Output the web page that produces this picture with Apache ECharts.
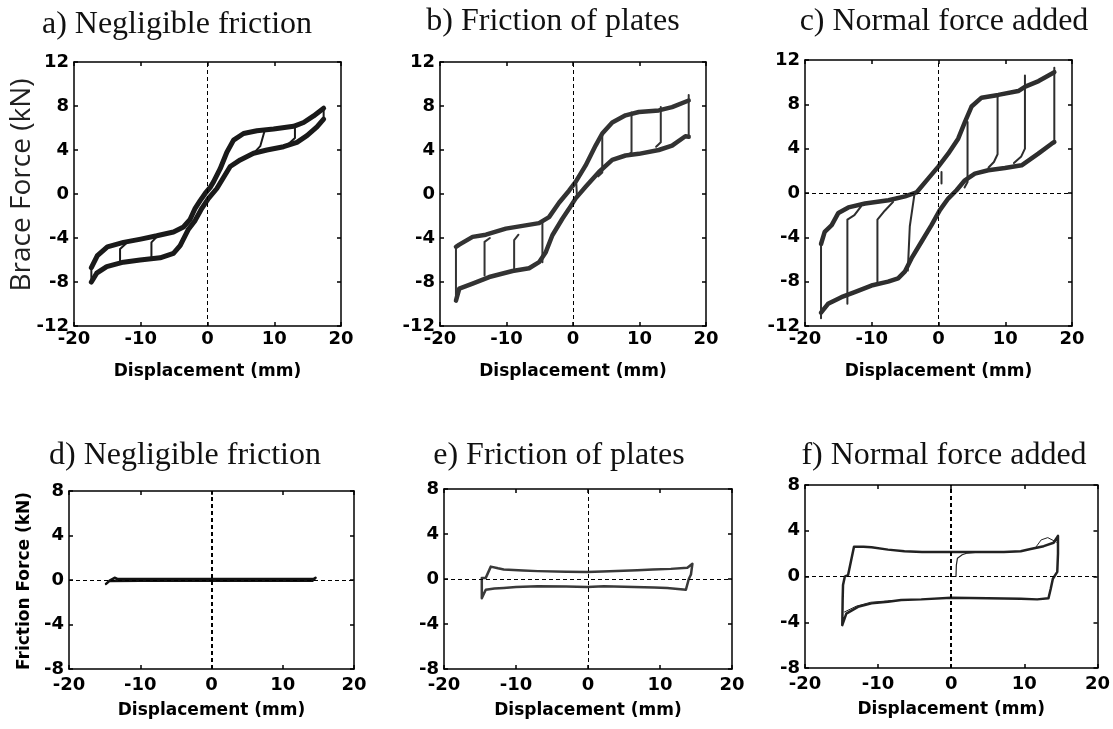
<!DOCTYPE html>
<html><head><meta charset="utf-8">
<script src="https://cdn.jsdelivr.net/npm/echarts/dist/echarts.min.js"></script>
<style>html,body{margin:0;padding:0;background:#fff}#c{width:1113px;height:729px}</style>
</head><body><div id="c"></div>
<script>
// ---------- titles / labels ----------
const panelTitles = ['a) Negligible friction','b) Friction of plates','c) Normal force added',
                     'd) Negligible friction','e) Friction of plates','f) Normal force added'];
const xName = 'Displacement (mm)';
const yNameTop = 'Brace Force (kN)';
const yNameBottom = 'Friction Force (kN)';
const xTicks = [-20, 20, 10];          // min, max, interval
const yTicksTop = [-12, 12, 4];
const yTicksBottom = [-8, 8, 4];

// ---------- panel a ----------
const aUpper = [[-17.4,-6.7],[-16.5,-5.6],[-15,-4.8],[-12.6,-4.4],[-10,-4.1],[-7.6,-3.8],[-5.1,-3.45],[-3.6,-3.0],[-2.6,-2.3],[-1.85,-1.3],[-1.1,-0.6],[-0.35,0.05],[0.4,0.6],[0.9,1.1],[1.9,2.3],[2.9,3.8],[3.9,4.9],[5.4,5.5],[7.4,5.75],[9.9,5.9],[12.9,6.15],[14.4,6.5],[15.9,7.1],[17.4,7.8]];
const aLower = [[17.4,6.8],[16.4,6.1],[14.9,5.3],[13.4,4.7],[11.4,4.3],[8.9,4.0],[6.9,3.7],[4.9,3.1],[3.4,2.5],[2.4,1.5],[1.4,0.5],[0.15,-0.4],[-0.85,-1.3],[-1.85,-2.4],[-2.85,-3.2],[-4.1,-4.7],[-5.1,-5.4],[-7.1,-5.8],[-10.1,-6.0],[-12.6,-6.2],[-15.1,-6.6],[-16.6,-7.2],[-17.4,-8.0]];
const aDrops = [
  [[17.4,7.8],[17.4,6.8]],
  [[13.1,6.2],[13.1,5.1],[12.2,4.6]],
  [[8.6,5.85],[7.9,4.35],[7.2,3.9]],
  [[-17.4,-8.0],[-17.4,-6.7]],
  [[-13.1,-6.1],[-13.1,-5.0],[-12.2,-4.5]],
  [[-8.4,-5.8],[-8.4,-4.4],[-7.6,-3.9]]
];

// ---------- panel b ----------
const bUpper = [[-17.6,-4.8],[-17.1,-4.6],[-15.1,-3.9],[-13.1,-3.7],[-10.1,-3.15],[-7.6,-2.9],[-5.1,-2.65],[-3.6,-2.1],[-2.1,-0.8],[-0.6,0.3],[0.4,1.1],[1.9,2.6],[3.4,4.4],[4.4,5.5],[5.9,6.5],[7.9,7.15],[9.9,7.45],[12.9,7.6],[14.9,7.9],[17.4,8.5]];
const bLower = [[17.4,5.2],[16.9,5.25],[14.9,4.4],[12.9,4.0],[9.9,3.65],[7.9,3.5],[5.9,3.1],[3.9,2.0],[1.9,0.65],[0.4,-0.4],[-0.6,-1.35],[-1.6,-2.25],[-3.1,-3.75],[-4.1,-5.3],[-5.1,-6.2],[-6.6,-6.75],[-9.1,-7.0],[-12.6,-7.55],[-15.1,-8.15],[-17.1,-8.6],[-17.6,-9.7]];
const bDrops = [
  [[17.4,9.0],[17.4,5.2]],
  [[13.2,7.9],[13.2,4.7],[12.5,4.3]],
  [[8.8,7.4],[8.8,3.8],[8.2,3.5]],
  [[4.4,5.5],[4.4,1.95],[3.8,1.6]],
  [[-17.6,-9.7],[-17.6,-4.8]],
  [[-13.3,-7.4],[-13.3,-4.35],[-12.5,-4.0]],
  [[-8.85,-6.9],[-8.85,-4.2],[-8.2,-3.7]],
  [[-4.6,-6.2],[-4.6,-2.5],[-4.0,-2.2]],
  [[0.5,0.9],[0.6,-0.3]]
];

// ---------- panel c ----------
const cUpper = [[-17.6,-4.6],[-17.05,-3.5],[-16,-2.9],[-15,-1.8],[-13.5,-1.3],[-11,-0.95],[-7.5,-0.65],[-5,-0.3],[-3.3,0.05],[-1.55,1.3],[0,2.4],[1.45,3.55],[2.95,4.9],[3.95,6.4],[4.95,7.8],[6.45,8.6],[8.95,8.85],[11.95,9.2],[13,9.6],[15,10.1],[17.35,10.9]];
const cLower = [[17.35,4.6],[16.95,4.45],[14.95,3.55],[12.45,2.5],[9.95,2.25],[7.45,2.05],[5.45,1.75],[3.95,1.15],[2.7,0.25],[1.45,-0.5],[0.2,-1.55],[-1.05,-2.9],[-2.55,-4.4],[-4.05,-5.9],[-5.05,-7.1],[-6.05,-7.7],[-7.55,-8.0],[-10.05,-8.35],[-12.55,-8.95],[-14.55,-9.4],[-16.55,-10.0],[-17.6,-10.8]];
const cDrops = [
  [[17.35,11.3],[17.35,4.6]],
  [[12.95,10.6],[12.95,4.0],[12.4,3.3],[11.3,2.7]],
  [[8.85,8.8],[8.85,3.5],[8.3,2.8],[7.5,2.3]],
  [[4.35,6.4],[4.35,1.0],[3.9,0.5]],
  [[-17.6,-11.3],[-17.6,-4.6]],
  [[-13.65,-10.0],[-13.65,-2.4],[-12.6,-2.0],[-11.6,-1.2]],
  [[-9.15,-8.0],[-9.15,-2.4],[-8.05,-1.6],[-6.8,-0.8]],
  [[-4.6,-7.0],[-4.3,-3.0],[-3.6,-0.1]],
  [[0.45,1.9],[0.45,0.85]]
];

// ---------- panel d ----------
const dLoop = [[-14.8,-0.35],[-14.3,-0.05],[-13.6,0.2],[-13.2,0.1],[-10,0.08],[0,0.08],[10,0.08],[14.3,0.08],[14.6,0.2],[14.6,0.05],[14.2,-0.06],[10,-0.06],[0,-0.06],[-10,-0.06],[-14.3,-0.08],[-14.8,-0.35]];

// ---------- panel e ----------
const eLoop = [[-14.75,-1.7],[-14.75,0.1],[-14.2,0.1],[-13.5,1.1],[-12.5,0.95],[-11.7,0.85],[-9,0.75],[-7,0.7],[-3,0.65],[-0.1,0.62],[3,0.68],[6.85,0.77],[9,0.85],[11.5,0.9],[13.8,1.0],[14.5,1.35],[14.3,0.4],[14.0,0],[13.6,-0.95],[11,-0.8],[9.2,-0.75],[5,-0.68],[2.2,-0.65],[-0.1,-0.72],[-3,-0.66],[-7,-0.65],[-10,-0.72],[-11.7,-0.8],[-13,-0.85],[-14.2,-0.95],[-14.75,-1.7]];

// ---------- panel f ----------
const fLoop = [[-14.9,-4.25],[-14.85,-2.0],[-14.8,-0.75],[-14.55,0],[-14.1,0.15],[-13.3,2.6],[-12,2.6],[-10.9,2.55],[-8.65,2.35],[-6.4,2.2],[-4,2.15],[-1.85,2.15],[0,2.15],[3.6,2.15],[7.2,2.15],[9.5,2.2],[10.85,2.4],[12.65,2.65],[14.0,2.95],[14.6,3.55],[14.6,2.0],[14.5,0.4],[13.9,-0.2],[13.6,-1.1],[13.3,-1.9],[11.75,-2.0],[9.5,-1.95],[4.95,-1.9],[0,-1.85],[-4.1,-2.0],[-6.85,-2.05],[-8.65,-2.2],[-10.9,-2.35],[-12.75,-2.65],[-14.35,-3.25],[-14.9,-4.25]];
const fInit = [[0.65,0],[0.7,1.0],[0.85,1.6],[1.5,1.9],[2.2,2.05],[4,2.15]];
const fThin1 = [[-14.6,-3.1],[-13,-2.6],[-11,-2.25],[-8,-2.1]];
const fThin2 = [[11.5,2.5],[12.3,3.2],[13.2,3.4],[14.4,3.0]];

// ---------- layout ----------
const grids = [
  {left:74, top:62, width:267, height:264},
  {left:440, top:62, width:266, height:264},
  {left:805, top:60, width:267, height:266},
  {left:69, top:491, width:285, height:178},
  {left:444, top:489, width:288, height:180},
  {left:805, top:485, width:294, height:183}
];
const titlePos = [[177,25],[553,22],[944,22],[185,456],[559,456],[944,456]];

const chart = echarts.init(document.getElementById('c'), null, {renderer:'canvas'});
const xAxes = [], yAxes = [];
grids.forEach((g, i) => {
  const top = i < 3;
  const yt = top ? yTicksTop : yTicksBottom;
  const common = {
    type:'value', gridIndex:i, splitLine:{show:false},
    axisLine:{show:true, onZero:false, lineStyle:{color:'#000', width:1.5}},
    axisTick:{show:true, inside:true, length:4, lineStyle:{color:'#000', width:1.5}}
  };
  const lab = {color:'#000', fontFamily:'DejaVu Sans', fontWeight:'bold', fontSize:18};
  xAxes.push(Object.assign({}, common, {position:'bottom', min:xTicks[0], max:xTicks[1], interval:xTicks[2],
    axisLabel:Object.assign({show:true, margin: top ? 4 : 7}, lab),
    name:xName, nameLocation:'middle', nameGap: top ? 37 : 33,
    nameTextStyle:{color:'#000', fontFamily:'DejaVu Sans', fontWeight:'bold', fontSize:17}}));
  xAxes.push(Object.assign({}, common, {position:'top', min:xTicks[0], max:xTicks[1], interval:xTicks[2], axisLabel:{show:false}}));
  yAxes.push(Object.assign({}, common, {position:'left', min:yt[0], max:yt[1], interval:yt[2],
    axisLabel:Object.assign({show:true, margin:5}, lab)}));
  yAxes.push(Object.assign({}, common, {position:'right', min:yt[0], max:yt[1], interval:yt[2], axisLabel:{show:false}}));
});

function ser(gi, data, color, width, extra) {
  return Object.assign({type:'line', xAxisIndex:2*gi, yAxisIndex:2*gi, data:data, showSymbol:false, symbol:'none',
    lineStyle:{color:color, width:width, join:'round', cap:'round'}, itemStyle:{color:color}, silent:true, animation:false}, extra || {});
}
function zeroLines(horiz, vw) {
  const d = [{xAxis:0, lineStyle:{width:vw}}];
  if (horiz) d.push({yAxis:0, lineStyle:{width:1}});
  return {markLine:{silent:true, symbol:['none','none'], label:{show:false}, animation:false,
    lineStyle:{color:'#000', type:[4,3], width:1}, data:d}};
}

const series = [];
const tops = [[aUpper,aLower,aDrops,'#1a1a1a',5,false],[bUpper,bLower,bDrops,'#333',4.5,false],[cUpper,cLower,cDrops,'#2e2e2e',4.5,true]];
tops.forEach((p, gi) => {
  series.push(ser(gi, p[0], p[3], p[4], zeroLines(p[5], 1)));
  series.push(ser(gi, p[1], p[3], p[4]));
  p[2].forEach(dr => series.push(ser(gi, dr, p[3], 2)));
});
series.push(ser(3, dLoop, '#111', 2.5, zeroLines(true, 2)));
series.push(ser(4, eLoop, '#3a3a3a', 2.5, zeroLines(true, 1)));
series.push(ser(5, fLoop, '#222', 2.5, zeroLines(true, 2)));
series.push(ser(5, fInit, '#222', 1.2));
series.push(ser(5, fThin1, '#222', 1));
series.push(ser(5, fThin2, '#222', 1));

const graphic = panelTitles.map((t, i) => ({type:'text', x:titlePos[i][0], y:titlePos[i][1],
  style:{text:t, fontFamily:'Liberation Serif', fontSize:32, fill:'#111', align:'center', verticalAlign:'middle'}}));
graphic.push({type:'text', x:22, y:185, rotation:Math.PI/2,
  style:{text:yNameTop, fontFamily:'Open Sans', fontSize:28, fill:'#222', align:'center', verticalAlign:'middle'}});
graphic.push({type:'text', x:25, y:581, rotation:Math.PI/2,
  style:{text:yNameBottom, fontFamily:'DejaVu Sans', fontWeight:'bold', fontSize:17, fill:'#000', align:'center', verticalAlign:'middle'}});

chart.setOption({
  animation:false,
  backgroundColor:'#fff',
  grid: grids.map(g => Object.assign({containLabel:false}, g)),
  xAxis: xAxes, yAxis: yAxes, series: series, graphic: graphic
});
</script></body></html>
